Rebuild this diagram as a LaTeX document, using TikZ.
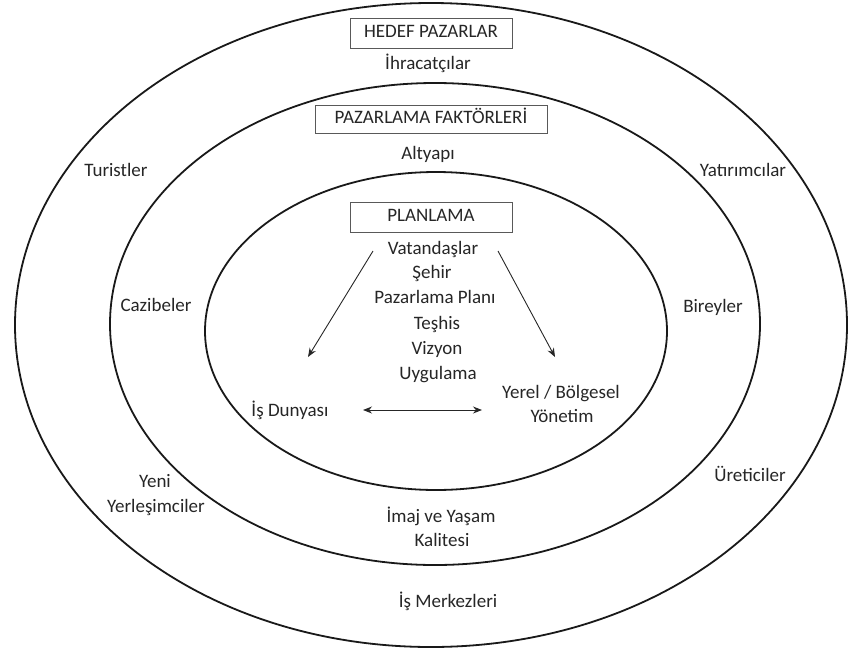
\documentclass[tikz,border=0pt]{standalone}
\usepackage{fontspec}
\setmainfont{Carlito}
\usepackage{tikz}
\usetikzlibrary{arrows.meta}
\usetikzlibrary{positioning}
\tikzset{
    halka/.style={
        line width=1.8pt,
        black!90
    },
    etiket/.style={
        text=black!85,
        font=\fontsize{19}{23}\selectfont,
        inner sep=0pt,
        text height=13pt,
        text depth=4pt
    },
    % kutulu basliklar
    kutu/.style={
        etiket,
        draw=black!65,
        line width=1pt,
        minimum height=30pt
    },
    okcizgi/.style={
        line width=0.9pt,
        black!85,
        ->,
        >={Stealth[length=9pt, width=7pt]}
    }
}

\begin{document}
\begin{tikzpicture}[x=1pt,y=-1pt]
    \useasboundingbox (0,0) rectangle (848,651);

    \draw[halka] (431,325) ellipse (416 and 322);
    \draw[halka] (435,324) ellipse (325 and 241);
    \draw[halka] (436,331) ellipse (231 and 159);

    \node[kutu, minimum width=162pt] (hedef) at (431,33) {HEDEF PAZARLAR};
    \node[etiket] (ihr) at (428,65) {İhracatçılar};
    \node[kutu, minimum width=232pt, minimum height=28pt] (faktor) at (431,119) {PAZARLAMA FAKTÖRLERİ};
    \node[etiket] (alt) at (428,155) {Altyapı};
    \node[kutu, minimum width=162pt] (plan) at (431,217) {PLANLAMA};

    \node[etiket] (vat) at (433,250) {Vatandaşlar};
    \node[etiket] (seh) at (432,274) {Şehir};
    \node[etiket] (pzp) at (435,299) {Pazarlama Planı};
    \node[etiket] (tes) at (437,325) {Teşhis};
    \node[etiket] (viz) at (437,350) {Vizyon};
    \node[etiket] (uyg) at (438,375) {Uygulama};

    \node[etiket] (isd) at (290,412) {İş Dunyası};
    \node[etiket] (yer) at (561,394) {Yerel / Bölgesel};
    \node[etiket] (yon) at (562,418) {Yönetim};

    \node[etiket] (tur) at (116,172) {Turistler};
    \node[etiket] (yat) at (743,172) {Yatırımcılar};
    \node[etiket] (caz) at (156,307) {Cazibeler};
    \node[etiket] (bir) at (713,308) {Bireyler};
    \node[etiket] (ure) at (750,477) {Üreticiler};
    \node[etiket] (yen) at (155,483) {Yeni};
    \node[etiket] (yrl) at (156,508) {Yerleşimciler};
    \node[etiket] (ima) at (441,518) {İmaj ve Yaşam};
    \node[etiket] (kal) at (442,542) {Kalitesi};
    \node[etiket] (mer) at (448,603) {İş Merkezleri};

    \coordinate (sol1) at (373,251);
    \coordinate (sol2) at (308,357);
    \coordinate (sag1) at (498,251);
    \coordinate (sag2) at (555,357);
    \coordinate (orta1) at (363,410);
    \coordinate (orta2) at (482,410);

    \draw[okcizgi] (sol1) -- (sol2);
    \draw[okcizgi] (sag1) -- (sag2);
    \draw[okcizgi, <->] (orta1) -- (orta2);
\end{tikzpicture}
\end{document}
